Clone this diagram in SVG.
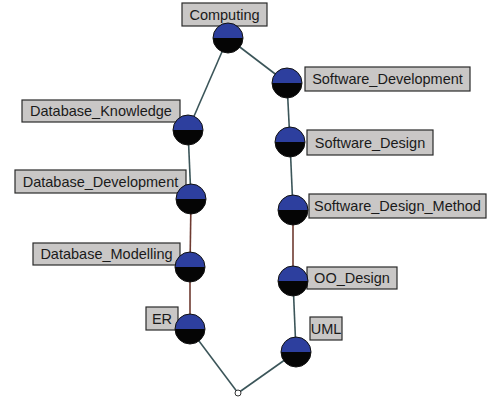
<svg xmlns="http://www.w3.org/2000/svg" width="488" height="401" viewBox="0 0 488 401">
  <style>
    .box { fill: #c9c7c6; stroke: #2a2a2a; stroke-width: 1.2; }
    .lbl { font-family: "Liberation Sans", Arial, sans-serif; font-size: 14.5px; fill: #1a1a1a; }
    .edge { stroke: #3b5559; stroke-width: 1.6; fill: none; }
    .edge.warm { stroke: #6e3a30; }
    .top { fill: #2d3f9e; }
    .bot { fill: #050505; }
    .ring { fill: none; stroke: #111; stroke-width: 1; }
  </style>
  <defs>
    <!-- half blue / half black node ball, centred at origin -->
    <g id="ball">
      <path class="top" d="M-15,0 A15,15 0 0 1 15,0 Z"/>
      <path class="bot" d="M-15,0 A15,15 0 0 0 15,0 Z"/>
      <circle class="ring" r="15"/>
    </g>
  </defs>
  <rect width="488" height="401" fill="#ffffff"/>

  <g id="connectors">
    <line class="edge" x1="228" y1="38" x2="188" y2="130"/>
    <line class="edge" x1="228" y1="38" x2="287" y2="83"/>
    <line class="edge" x1="188" y1="130" x2="191" y2="199"/>
    <line class="edge warm" x1="191" y1="199" x2="190" y2="267"/>
    <line class="edge warm" x1="190" y1="267" x2="190" y2="329"/>
    <line class="edge" x1="190" y1="329" x2="238" y2="393"/>
    <line class="edge" x1="287" y1="83" x2="290" y2="142"/>
    <line class="edge" x1="290" y1="142" x2="293" y2="210"/>
    <line class="edge warm" x1="293" y1="210" x2="293" y2="281"/>
    <line class="edge" x1="293" y1="281" x2="296" y2="352"/>
    <line class="edge" x1="296" y1="352" x2="238" y2="393"/>
  </g>

  <g id="computing">
    <rect class="box" x="182" y="3" width="85" height="23"/>
    <text class="lbl" x="224.5" y="20" text-anchor="middle">Computing</text>
    <use href="#ball" x="228" y="38"/>
  </g>

  <g id="database_knowledge">
    <rect class="box" x="22" y="100" width="158" height="22"/>
    <text class="lbl" x="101" y="116" text-anchor="middle">Database_Knowledge</text>
    <use href="#ball" x="188" y="130"/>
  </g>

  <g id="database_development">
    <rect class="box" x="15" y="170" width="171" height="23"/>
    <text class="lbl" x="100.5" y="187" text-anchor="middle">Database_Development</text>
    <use href="#ball" x="191" y="199"/>
  </g>

  <g id="database_modelling">
    <rect class="box" x="33" y="243" width="147" height="22"/>
    <text class="lbl" x="106.5" y="259" text-anchor="middle">Database_Modelling</text>
    <use href="#ball" x="190" y="267"/>
  </g>

  <g id="er">
    <rect class="box" x="146" y="307" width="32" height="23"/>
    <text class="lbl" x="162" y="324" text-anchor="middle">ER</text>
    <use href="#ball" x="190" y="329"/>
  </g>

  <g id="software_development">
    <rect class="box" x="305" y="67" width="165" height="24"/>
    <text class="lbl" x="387.5" y="84" text-anchor="middle">Software_Development</text>
    <use href="#ball" x="287" y="83"/>
  </g>

  <g id="software_design">
    <rect class="box" x="307" y="130" width="126" height="25"/>
    <text class="lbl" x="370" y="147.5" text-anchor="middle">Software_Design</text>
    <use href="#ball" x="290" y="142"/>
  </g>

  <g id="software_design_method">
    <rect class="box" x="309" y="194" width="177" height="24"/>
    <text class="lbl" x="397.5" y="211" text-anchor="middle">Software_Design_Method</text>
    <use href="#ball" x="293" y="210"/>
  </g>

  <g id="oo_design">
    <rect class="box" x="307" y="267" width="90" height="22"/>
    <text class="lbl" x="352" y="283" text-anchor="middle">OO_Design</text>
    <use href="#ball" x="293" y="281"/>
  </g>

  <g id="uml">
    <rect class="box" x="310" y="317" width="32" height="23"/>
    <text class="lbl" x="326" y="334" text-anchor="middle">UML</text>
    <use href="#ball" x="296" y="352"/>
  </g>

  <g id="join">
    <circle cx="238" cy="393" r="3" fill="#ffffff" stroke="#333" stroke-width="1"/>
  </g>
</svg>
